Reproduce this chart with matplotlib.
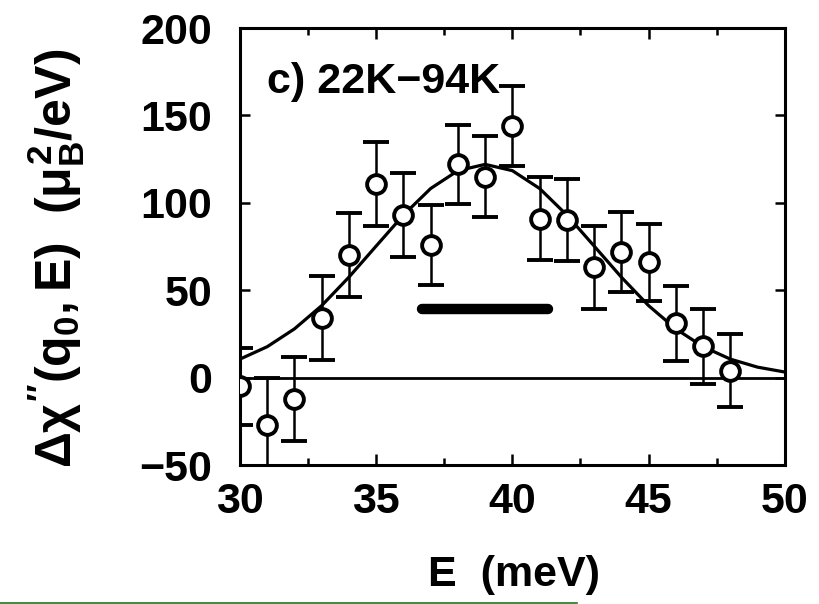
import numpy as np
import matplotlib
matplotlib.use("Agg")
import matplotlib.pyplot as plt
from matplotlib.lines import Line2D
from matplotlib.ticker import MultipleLocator

# === Data ===
energy = [30, 31, 32, 33, 34, 35, 36, 37, 38, 39, 40, 41, 42, 43, 44, 45, 46, 47, 48]
dchi = [-5, -27, -12, 34, 70, 111, 93, 76, 122, 115, 144, 91, 90, 63, 72, 66, 31, 18, 4]
dchi_err = [22, 27, 24, 24, 24, 24, 24, 23, 22.5, 23, 23, 23.5, 23.5, 23.5, 23, 22, 21.5, 21.5, 21]

# fit curve, read every 1 meV
fit_e = [30, 31, 32, 33, 34, 35, 36, 37, 38, 39, 40,
         41, 42, 43, 44, 45, 46, 47, 48, 49, 50]
fit_chi = [10.6, 17.7, 27.9, 41.2, 57.5, 75.3, 93.0, 108.2, 118.4, 122.0, 118.4,
           108.2, 93.0, 75.3, 57.5, 41.2, 27.9, 17.7, 10.6, 6.0, 3.2]

# resolution bar
res_e = [36.7, 41.3]
res_chi = [39.5, 39.5]

panel_label = "c) 22K\u221294K"

# === Style ===
plt.rcParams["font.family"] = ["Liberation Sans", "DejaVu Sans"]
plt.rcParams["font.weight"] = "bold"
plt.rcParams["mathtext.fontset"] = "custom"
plt.rcParams["mathtext.rm"] = "Liberation Sans:bold"
plt.rcParams["mathtext.it"] = "Liberation Sans:bold"
plt.rcParams["mathtext.bf"] = "Liberation Sans:bold"
plt.rcParams["mathtext.sf"] = "Liberation Sans:bold"
fs = 31

fig = plt.figure(figsize=(8.2, 6.04), dpi=100)
ax = fig.add_axes([0.2927, 0.2301, 0.6643, 0.7235])

ax.axhline(0, color="black", lw=2.0, zorder=1)
ax.plot(fit_e, fit_chi, color="black", lw=2.3, zorder=2)
ax.plot(res_e, res_chi, color="black", lw=7.5, solid_capstyle="round", zorder=2)
ax.errorbar(energy, dchi, yerr=dchi_err, fmt="o", color="black",
            mfc="white", mec="black", ms=13.5, mew=2.8,
            elinewidth=1.8, capsize=9.5, capthick=1.8, zorder=3)

ax.text(31.0, 163, panel_label, fontsize=fs, fontweight="bold", ha="left", va="baseline")

ax.set_xlim(30, 50)
ax.set_ylim(-50, 200)
ax.xaxis.set_major_locator(MultipleLocator(5))
ax.xaxis.set_minor_locator(MultipleLocator(2.5))
ax.yaxis.set_major_locator(MultipleLocator(50))

for s in ax.spines.values():
    s.set_linewidth(2.2)
ax.tick_params(which="both", direction="in", top=True, right=True, width=1.8, labelsize=fs)
ax.tick_params(axis="x", which="major", length=8, pad=12)
ax.tick_params(axis="x", which="minor", length=5)
ax.tick_params(axis="y", which="major", length=7, pad=20)

fig.text(56 / 820, 1 - 258 / 604,
         r"$\Delta\chi''(\mathrm{q}_0,\mathrm{E})$  $(\mu_\mathrm{B}^2/\mathrm{eV})$",
         rotation=90, ha="center", va="center", fontsize=36)
fig.text(514 / 820, 1 - 575 / 604, "E  (meV)", ha="center", va="center", fontsize=fs)

# thin green rule at the bottom edge of the picture
fig.add_artist(Line2D([0, 577 / 820], [1.5 / 604, 1.5 / 604], color="#1a7a1a", lw=1.2))

fig.savefig("out.png", dpi=100)
